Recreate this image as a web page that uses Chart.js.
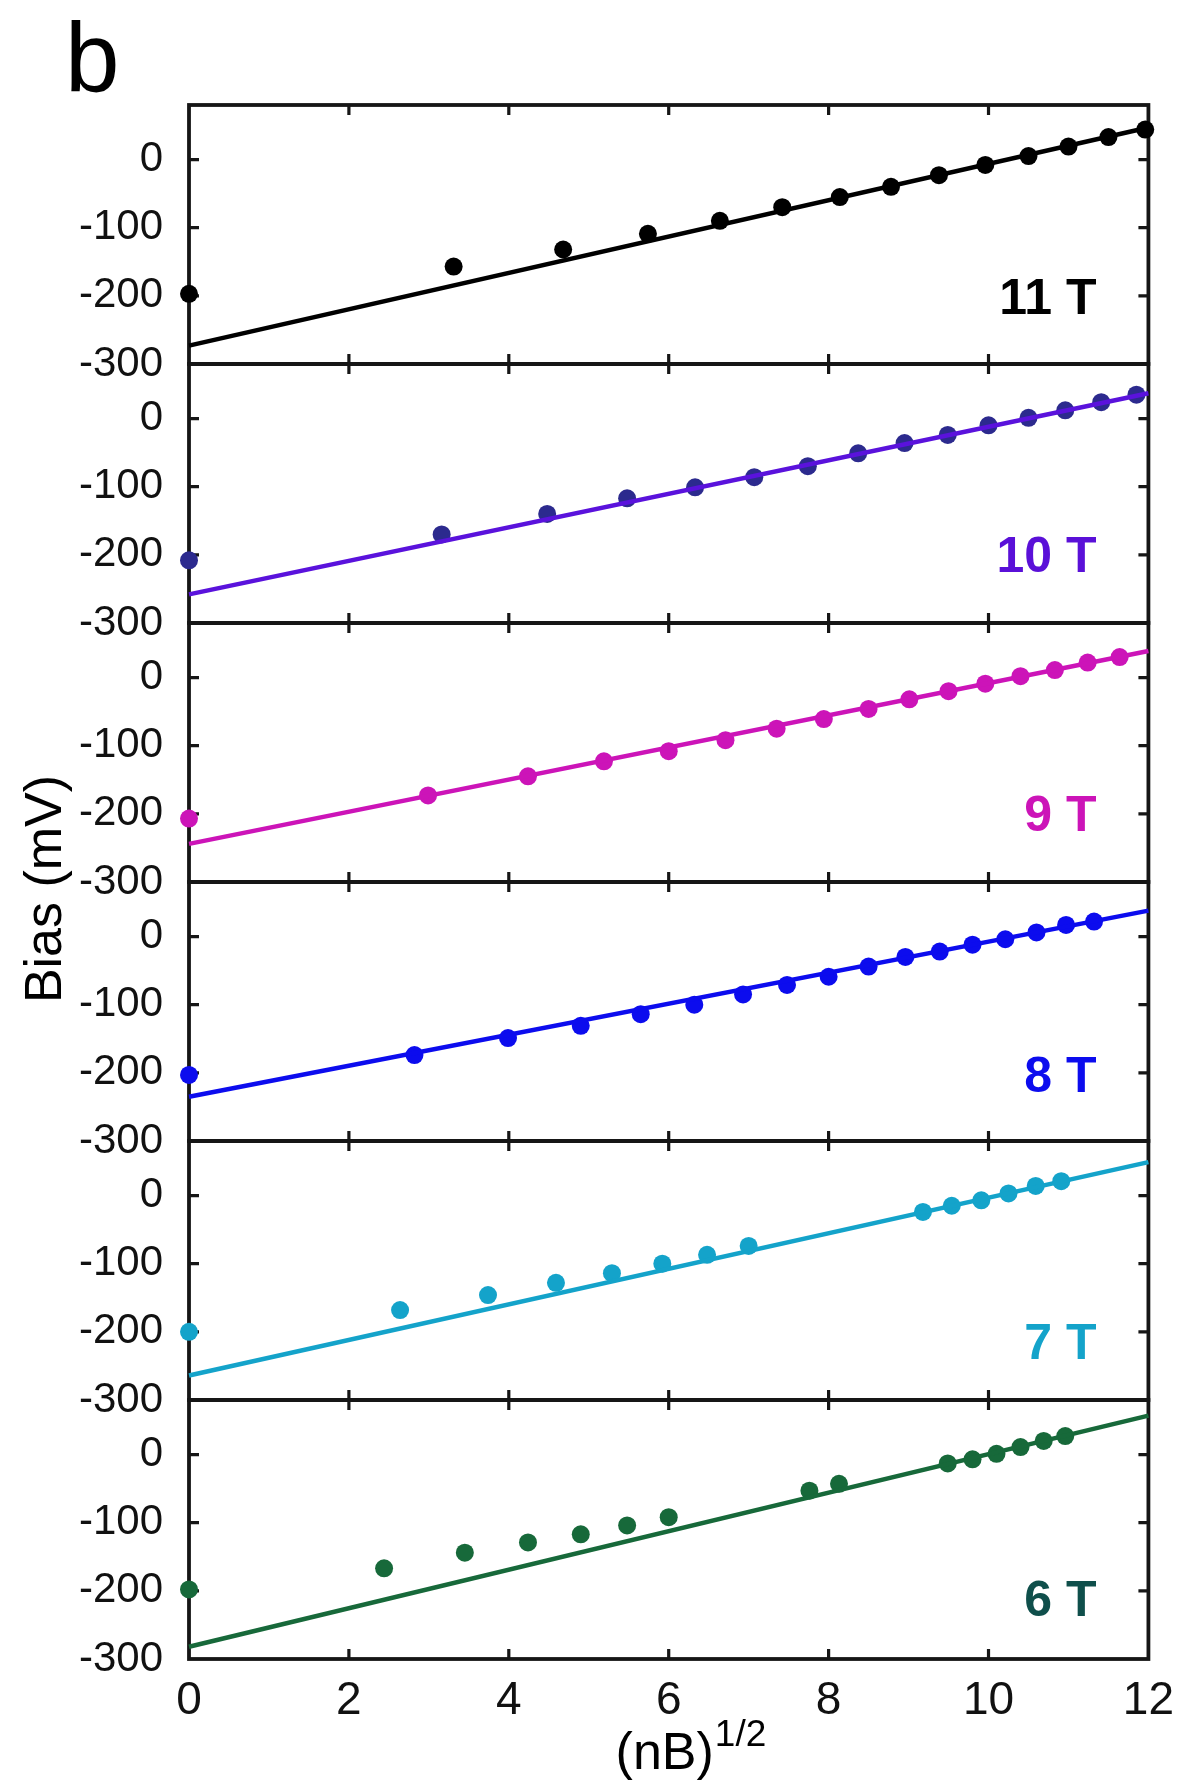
<!DOCTYPE html>
<html>
<head>
<meta charset="utf-8">
<script src="https://cdn.jsdelivr.net/npm/chart.js@4.4.1/dist/chart.umd.min.js"></script>
<style>
html,body{margin:0;padding:0;background:#fff;}
#wrap{position:relative;width:1181px;height:1782px;}
</style>
</head>
<body>
<div id="wrap"><canvas id="c" width="1181" height="1782"></canvas></div>
<script>
// ---------- data ----------
const panelNames = ['11 T', '10 T', '9 T', '8 T', '7 T', '6 T'];
const xTickValues = [0, 2, 4, 6, 8, 10, 12];
const yTickValues = [-300, -200, -100, 0];

const x11 = [0, 3.31, 4.68, 5.74, 6.64, 7.42, 8.14, 8.78, 9.38, 9.96, 10.50, 11.00, 11.50, 11.96];
const y11 = [-197, -157, -132, -109, -90, -70, -55, -40, -23, -8, 5, 19, 33, 44];

const x10 = [0, 3.16, 4.48, 5.48, 6.33, 7.07, 7.74, 8.37, 8.95, 9.49, 10.00, 10.50, 10.96, 11.41, 11.85];
const y10 = [-208, -170, -140, -117, -101, -86, -70, -51, -36, -24, -10, 1, 12, 24, 35];

const x9 = [0, 2.99, 4.24, 5.19, 6.00, 6.71, 7.35, 7.94, 8.50, 9.01, 9.50, 9.96, 10.40, 10.83, 11.24, 11.64];
const y9 = [-207, -173, -145, -123, -108, -92, -75, -61, -46, -32, -20, -9, 2, 11, 22, 30];

const x8 = [0, 2.82, 3.99, 4.90, 5.65, 6.32, 6.93, 7.48, 8.00, 8.50, 8.96, 9.39, 9.80, 10.21, 10.60, 10.97, 11.32];
const y8 = [-203, -174, -149, -131, -114, -100, -85, -71, -59, -44, -30, -22, -12, -4, 6, 17, 22];

const x7 = [0, 2.64, 3.74, 4.59, 5.29, 5.92, 6.48, 7.00, 9.18, 9.54, 9.91, 10.25, 10.59, 10.91];
const y7 = [-200, -168, -146, -128, -114, -100, -87, -74, -24, -15, -7, 3, 14, 21];

const x6 = [0, 2.44, 3.45, 4.24, 4.90, 5.48, 6.00, 7.76, 8.13, 9.49, 9.80, 10.10, 10.40, 10.69, 10.96];
const y6 = [-198, -167, -144, -129, -117, -104, -92, -53, -43, -13, -7, 1, 11, 20, 27];

// linear fits: value at x = 0 and at x = 12
const fitX = [0, 12];
const fitStart = [-273, -258, -244, -235, -264, -282];
const fitEnd = [47, 37, 39, 38, 49, 57];

// ---------- styles ----------
const lineColors  = ['#000000', '#5a12dc', '#cc14b8', '#0c0cee', '#14a3ca', '#17693a'];
const pointColors = ['#000000', '#2c2a8e', '#cc14b8', '#0c0cee', '#14a3ca', '#17693a'];
const labelColors = ['#000000', '#5a10d8', '#cc14b8', '#0c0cee', '#14a3ca', '#0f4f4b'];
const labelPos = [[11.35, -207], [11.35, -205], [11.35, -205], [11.35, -208], [11.35, -220], [11.35, -217]];
const FONT = "'Liberation Sans', Arial, Helvetica, sans-serif";

const xsArr = [x11, x10, x9, x8, x7, x6];
const ysArr = [y11, y10, y9, y8, y7, y6];

const datasets = [];
panelNames.forEach((name, i) => {
  datasets.push({
    label: name + ' fit',
    data: fitX.map((x, k) => ({x: x, y: k === 0 ? fitStart[i] : fitEnd[i]})),
    yAxisID: 'y' + i, xAxisID: 'x',
    showLine: true, borderColor: lineColors[i], borderWidth: 4.5,
    pointRadius: 0, order: 1, clip: false
  });
  datasets.push({
    label: name,
    data: xsArr[i].map((x, k) => ({x: x, y: ysArr[i][k]})),
    yAxisID: 'y' + i, xAxisID: 'x',
    showLine: false, backgroundColor: pointColors[i], borderWidth: 0,
    pointRadius: 9, pointHoverRadius: 9, order: 2, clip: false
  });
});

const scales = {
  x: {
    type: 'linear', position: 'bottom', min: 0, max: 12,
    grid: {display: false}, border: {display: false},
    ticks: {font: {family: FONT, size: 46}, color: '#111', padding: 7, autoSkip: false, maxRotation: 0},
    afterBuildTicks: s => { s.ticks = xTickValues.map(v => ({value: v})); },
    afterFit: s => { s.height = 123; }
  }
};
panelNames.forEach((name, i) => {
  scales['y' + i] = {
    type: 'linear', position: 'left', stack: 'panels', stackWeight: 1, weight: 10 - i,
    min: -300, max: 80, offset: false,
    grid: {display: false}, border: {display: false},
    ticks: {font: {family: FONT, size: 42}, color: '#111', padding: 18, autoSkip: false},
    afterBuildTicks: s => { s.ticks = yTickValues.map(v => ({value: v})); },
    afterFit: s => { s.width = 189; }
  };
});

const TL = 10;
const decor = {
  id: 'decor',
  beforeDatasetsDraw(chart) {
    const ctx = chart.ctx, ca = chart.chartArea, xs = chart.scales.x;
    ctx.save();
    ctx.strokeStyle = '#161616';
    panelNames.forEach((n, i) => {
      const ys = chart.scales['y' + i];
      ctx.lineWidth = 3.8;
      ctx.strokeRect(ca.left, ys.top, ca.right - ca.left, ys.bottom - ys.top);
      ctx.lineWidth = 3.2;
      ctx.beginPath();
      xTickValues.slice(1, -1).forEach(v => {
        const px = xs.getPixelForValue(v);
        ctx.moveTo(px, ys.top); ctx.lineTo(px, ys.top + TL);
        ctx.moveTo(px, ys.bottom); ctx.lineTo(px, ys.bottom - TL);
      });
      yTickValues.slice(1).forEach(v => {
        const py = ys.getPixelForValue(v);
        ctx.moveTo(ca.left, py); ctx.lineTo(ca.left + TL, py);
        ctx.moveTo(ca.right, py); ctx.lineTo(ca.right - TL, py);
      });
      ctx.stroke();
    });
    ctx.restore();
  },
  afterDraw(chart) {
    const ctx = chart.ctx, ca = chart.chartArea, xs = chart.scales.x;
    ctx.save();
    // panel labels
    panelNames.forEach((n, i) => {
      const ys = chart.scales['y' + i];
      ctx.font = 'bold 50px ' + FONT;
      ctx.fillStyle = labelColors[i];
      ctx.textAlign = 'right';
      ctx.textBaseline = 'middle';
      ctx.fillText(n, xs.getPixelForValue(labelPos[i][0]), ys.getPixelForValue(labelPos[i][1]));
    });
    // panel letter
    ctx.fillStyle = '#000';
    ctx.font = '98px ' + FONT;
    ctx.textAlign = 'left';
    ctx.textBaseline = 'alphabetic';
    ctx.fillText('b', 65, 91);
    // y title
    ctx.save();
    ctx.translate(61, (ca.top + ca.bottom) / 2 + 7);
    ctx.rotate(-Math.PI / 2);
    ctx.font = '52px ' + FONT;
    ctx.textAlign = 'center';
    ctx.fillText('Bias (mV)', 0, 0);
    ctx.restore();
    // x title (nB)^{1/2}
    const main = '(nB)', sup = '1/2';
    ctx.font = '52px ' + FONT;
    const wMain = ctx.measureText(main).width;
    const cx = (ca.left + ca.right) / 2;
    const x0 = cx - wMain / 2 - 4;
    const base = 1769;
    ctx.textAlign = 'left';
    ctx.fillText(main, x0, base);
    ctx.font = '37px ' + FONT;
    ctx.fillText(sup, x0 + wMain + 1, base - 23);
    ctx.restore();
  }
};

new Chart(document.getElementById('c'), {
  type: 'scatter',
  data: {datasets: datasets},
  options: {
    responsive: false, animation: false, devicePixelRatio: 1,
    layout: {padding: {left: 0, right: 31, top: 105, bottom: 0}},
    plugins: {legend: {display: false}, tooltip: {enabled: false}, title: {display: false}},
    scales: scales
  },
  plugins: [decor]
});
</script>
</body>
</html>
